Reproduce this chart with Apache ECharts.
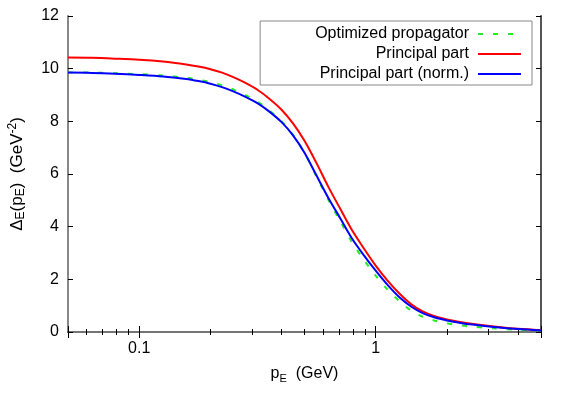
<!DOCTYPE html>
<html>
<head>
<meta charset="utf-8">
<script src="https://cdn.jsdelivr.net/npm/echarts@6/dist/echarts.min.js"></script>
<style>html,body{margin:0;padding:0;background:#fff}#c{width:570px;height:399px}</style>
</head>
<body>
<div id="c"></div>
<script>
const xValues = [0.05, 0.063, 0.079, 0.1, 0.126, 0.158, 0.178, 0.2, 0.224, 0.25, 0.28, 0.316, 0.355, 0.4, 0.447, 0.5, 0.56, 0.63, 0.71, 0.79, 0.89, 1.0, 1.12, 1.26, 1.41, 1.58, 1.78, 2, 2.24, 2.5, 3.16, 4, 5];
const optimized = [9.85, 9.85, 9.83, 9.79, 9.74, 9.65, 9.58, 9.49, 9.37, 9.21, 9.01, 8.75, 8.42, 8.01, 7.49, 6.8, 5.93, 5.03, 4.19, 3.44, 2.75, 2.14, 1.62, 1.17, 0.82, 0.58, 0.43, 0.33, 0.26, 0.21, 0.14, 0.08, 0.05];
const principal = [10.42, 10.41, 10.38, 10.34, 10.27, 10.16, 10.08, 9.98, 9.85, 9.68, 9.47, 9.2, 8.86, 8.44, 7.92, 7.26, 6.44, 5.52, 4.66, 3.9, 3.18, 2.52, 1.96, 1.46, 1.06, 0.78, 0.6, 0.48, 0.39, 0.32, 0.21, 0.12, 0.07];
const principalNorm = [9.85, 9.84, 9.81, 9.76, 9.7, 9.61, 9.53, 9.43, 9.3, 9.14, 8.94, 8.69, 8.37, 7.97, 7.47, 6.81, 5.97, 5.1, 4.3, 3.58, 2.92, 2.33, 1.8, 1.32, 0.97, 0.72, 0.55, 0.44, 0.36, 0.29, 0.19, 0.11, 0.06];
const seriesNames = ['Optimized propagator', 'Principal part', 'Principal part (norm.)'];
const xTickLabels = ['0.1', '1'];
const yTicks = [0, 2, 4, 6, 8, 10, 12];

const FONT = 'Liberation Sans, Arial, sans-serif';
const FS = 16;
const pairs = arr => xValues.map((x, i) => [x, arr[i]]);

const chart = echarts.init(document.getElementById('c'), null, {renderer: 'canvas'});
const baseX = {
  type: 'log', logBase: 10, min: 0.05, max: 5,
  splitLine: {show: false},
  axisTick: {show: true, inside: true, length: 6, lineStyle: {color: '#000', width: 1}},
  minorTick: {show: true, splitNumber: 9, length: 3, lineStyle: {color: '#000', width: 1}},
  minorSplitLine: {show: false}
};
const baseY = {
  type: 'value', min: 0, max: 12, interval: 2,
  splitLine: {show: false},
  axisTick: {show: true, inside: true, length: 5, lineStyle: {color: '#000', width: 1}}
};
chart.setOption({
  backgroundColor: '#fff',
  animation: false,
  textStyle: {fontFamily: FONT},
  grid: {left: 68, right: 29, top: 16, bottom: 67, containLabel: false, outerBoundsMode: 'none'},
  legend: {
    orient: 'vertical', right: 38, top: 21,
    align: 'right',
    itemWidth: 43, itemHeight: 14, itemGap: 4,
    padding: [5, 10, 3, 55],
    borderColor: '#888', borderWidth: 1, backgroundColor: '#fff',
    itemStyle: {opacity: 0},
    textStyle: {fontFamily: FONT, fontSize: FS, color: '#000', padding: [0, 4, 0, 0]},
    data: seriesNames
  },
  xAxis: [
    Object.assign({}, baseX, {
      position: 'bottom',
      axisLine: {show: true, lineStyle: {color: '#000', width: 1.5}},
      axisLabel: {
        show: true, fontFamily: FONT, fontSize: FS, color: '#000', margin: 9,
        formatter: v => { const s = String(+v.toPrecision(6)); return xTickLabels.includes(s) ? s : ''; }
      },
      name: '{m|p}{s|E}{m|  (GeV)}',
      nameLocation: 'middle', nameGap: 32,
      nameTextStyle: {
        fontFamily: FONT, fontSize: FS, color: '#000',
        rich: {
          m: {fontFamily: FONT, fontSize: FS, color: '#000', lineHeight: 20},
          s: {fontFamily: FONT, fontSize: 11, color: '#000', lineHeight: 11, padding: [9, 0, 0, 0], verticalAlign: 'bottom'}
        }
      }
    }),
    Object.assign({}, baseX, {
      position: 'top',
      axisLine: {show: true, lineStyle: {color: '#888', width: 1.5}},
      axisLabel: {show: false}
    })
  ],
  yAxis: [
    Object.assign({}, baseY, {
      position: 'left',
      axisLine: {show: true, lineStyle: {color: '#888', width: 2}},
      axisLabel: {show: true, fontFamily: FONT, fontSize: FS, color: '#000', margin: 9,
        formatter: v => yTicks.includes(v) ? String(v) : ''},
      name: '{m|Δ}{s|E}{m|(p}{s|E}{m|)  (GeV}{u|-2}{m|)}',
      nameLocation: 'middle', nameGap: 41, nameRotate: 90,
      nameTextStyle: {
        fontFamily: FONT, fontSize: 17, color: '#000',
        rich: {
          m: {fontFamily: FONT, fontSize: 17, color: '#000', lineHeight: 20},
          s: {fontFamily: FONT, fontSize: 12, color: '#000', lineHeight: 11, padding: [9, 0, 0, 0], verticalAlign: 'bottom'},
          u: {fontFamily: FONT, fontSize: 12, color: '#000', lineHeight: 11, padding: [0, 0, 9, 0], verticalAlign: 'top'}
        }
      }
    }),
    Object.assign({}, baseY, {
      position: 'right',
      axisLine: {show: true, lineStyle: {color: '#555', width: 2}},
      axisLabel: {show: false}
    })
  ],
  series: [
    {
      name: seriesNames[0], type: 'line', data: pairs(optimized),
      showSymbol: false, symbol: 'none', smooth: 0.3,
      lineStyle: {color: '#22ee22', width: 2, type: [5, 10]},
      itemStyle: {color: '#22ee22'}, z: 2
    },
    {
      name: seriesNames[1], type: 'line', data: pairs(principal),
      showSymbol: false, symbol: 'none', smooth: 0.3,
      lineStyle: {color: '#ff0000', width: 2},
      itemStyle: {color: '#ff0000'}, z: 3
    },
    {
      name: seriesNames[2], type: 'line', data: pairs(principalNorm),
      showSymbol: false, symbol: 'none', smooth: 0.3,
      lineStyle: {color: '#0000ff', width: 2},
      itemStyle: {color: '#0000ff'}, z: 4
    }
  ]
});
</script>
</body>
</html>
